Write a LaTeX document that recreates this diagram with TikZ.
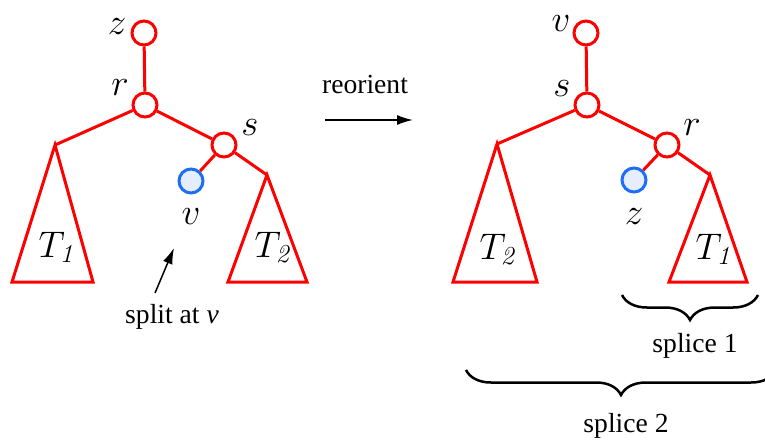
\RequirePackage{fix-cm}
\documentclass[tikz,border=0pt]{standalone}
\usepackage{fontspec}
\newfontfamily\tms{Liberation Serif}
\usetikzlibrary{decorations.pathreplacing,arrows.meta}
\definecolor{nodeblue}{RGB}{30,110,245}
\definecolor{nodefill}{RGB}{228,238,255}
\begin{document}
\begin{tikzpicture}[x=1pt,y=-1pt,
  vert/.style={circle,draw=red,line width=3pt,fill=white,inner sep=0pt,minimum size=24pt},
  leaf/.style={circle,draw=nodeblue,line width=3pt,fill=nodefill,inner sep=0pt,minimum size=24pt},
  edge/.style={red,line width=3pt},
  tri/.style={red,line width=3pt,line join=miter},
  lab/.style={font=\fontsize{37}{40}\selectfont,inner sep=0pt},
  txt/.style={font=\tms\fontsize{27.6}{30}\selectfont,inner sep=0pt,anchor=base},
  arr/.style={black,line width=1.5pt,-{Latex[length=16pt,width=10pt]}},
  brc/.style={black,line width=2.5pt,decorate,decoration={brace,mirror,amplitude=25pt}}
  ]
\useasboundingbox (0,0) rectangle (765,439);
% ---- left tree ----
\coordinate (t1a) at (55,145);
\coordinate (t1l) at (12,282);
\coordinate (t1r) at (93,282);
\coordinate (t2a) at (267,175);
\coordinate (t2l) at (228,282);
\coordinate (t2r) at (307,282);
\draw[tri] (t1a) -- (t1l) -- (t1r) -- cycle;
\draw[tri] (t2a) -- (t2l) -- (t2r) -- cycle;
\node[vert] (z) at (144,33) {};
\node[vert] (r) at (145,105) {};
\node[vert] (s) at (224,145) {};
\node[leaf] (v) at (191,181) {};
\draw[edge] (z) -- (r);
\draw[edge] (r) -- (t1a);
\draw[edge] (r) -- (s);
\draw[edge] (s) -- (v);
\draw[edge] (s) -- (t2a);
\node[lab] (zl) at (117,27) {$z$};
\node[lab] (rl) at (120,88) {$r$};
\node[lab] (sl) at (250,128) {$s$};
\node[lab] (vl) at (191,217) {$v$};
\node[lab,anchor=base] (T1l) at (56,257) {$T_{\mathit{1}}$};
\node[lab,anchor=base] (T2l) at (272,257) {$T_{\mathit{2}}$};
% split arrow
\node[txt] (split) at (172,323) {split at \textit{v}};
\coordinate (splittail) at (155,293);
\coordinate (splithead) at (174,248);
\draw[arr] (splittail) -- (splithead);
% reorient
\node[txt] (reo) at (365,93) {reorient};
\coordinate (ra) at (325,120);
\coordinate (rb) at (413,120);
\draw[arr] (ra) -- (rb);
% ---- right tree ----
\coordinate (u2a) at (497,144);
\coordinate (u2l) at (453,282);
\coordinate (u2r) at (537,282);
\coordinate (u1a) at (710,175);
\coordinate (u1l) at (669,282);
\coordinate (u1r) at (747,282);
\draw[tri] (u2a) -- (u2l) -- (u2r) -- cycle;
\draw[tri] (u1a) -- (u1l) -- (u1r) -- cycle;
\node[vert] (v2) at (586,33) {};
\node[vert] (s2) at (587,105) {};
\node[vert] (r2) at (667,145) {};
\node[leaf] (z2) at (634,180) {};
\draw[edge] (v2) -- (s2);
\draw[edge] (s2) -- (u2a);
\draw[edge] (s2) -- (r2);
\draw[edge] (r2) -- (z2);
\draw[edge] (r2) -- (u1a);
\node[lab] (v2l) at (561,24) {$v$};
\node[lab] (s2l) at (562,89) {$s$};
\node[lab] (r2l) at (692,128) {$r$};
\node[lab] (z2l) at (634,217) {$z$};
\node[lab,anchor=base] (T2r) at (497,259) {$T_{\mathit{2}}$};
\node[lab,anchor=base] (T1r) at (713,259) {$T_{\mathit{1}}$};
% braces
\coordinate (b1l) at (622,295);
\coordinate (b1r) at (758,295);
\draw[brc] (b1l) -- (b1r);
\node[txt] (sp1) at (695,352) {splice 1};
\coordinate (b2l) at (466,370);
\coordinate (b2r) at (776,370);
\draw[brc] (b2l) -- (b2r);
\node[txt] (sp2) at (626,432) {splice 2};
\end{tikzpicture}
\end{document}
